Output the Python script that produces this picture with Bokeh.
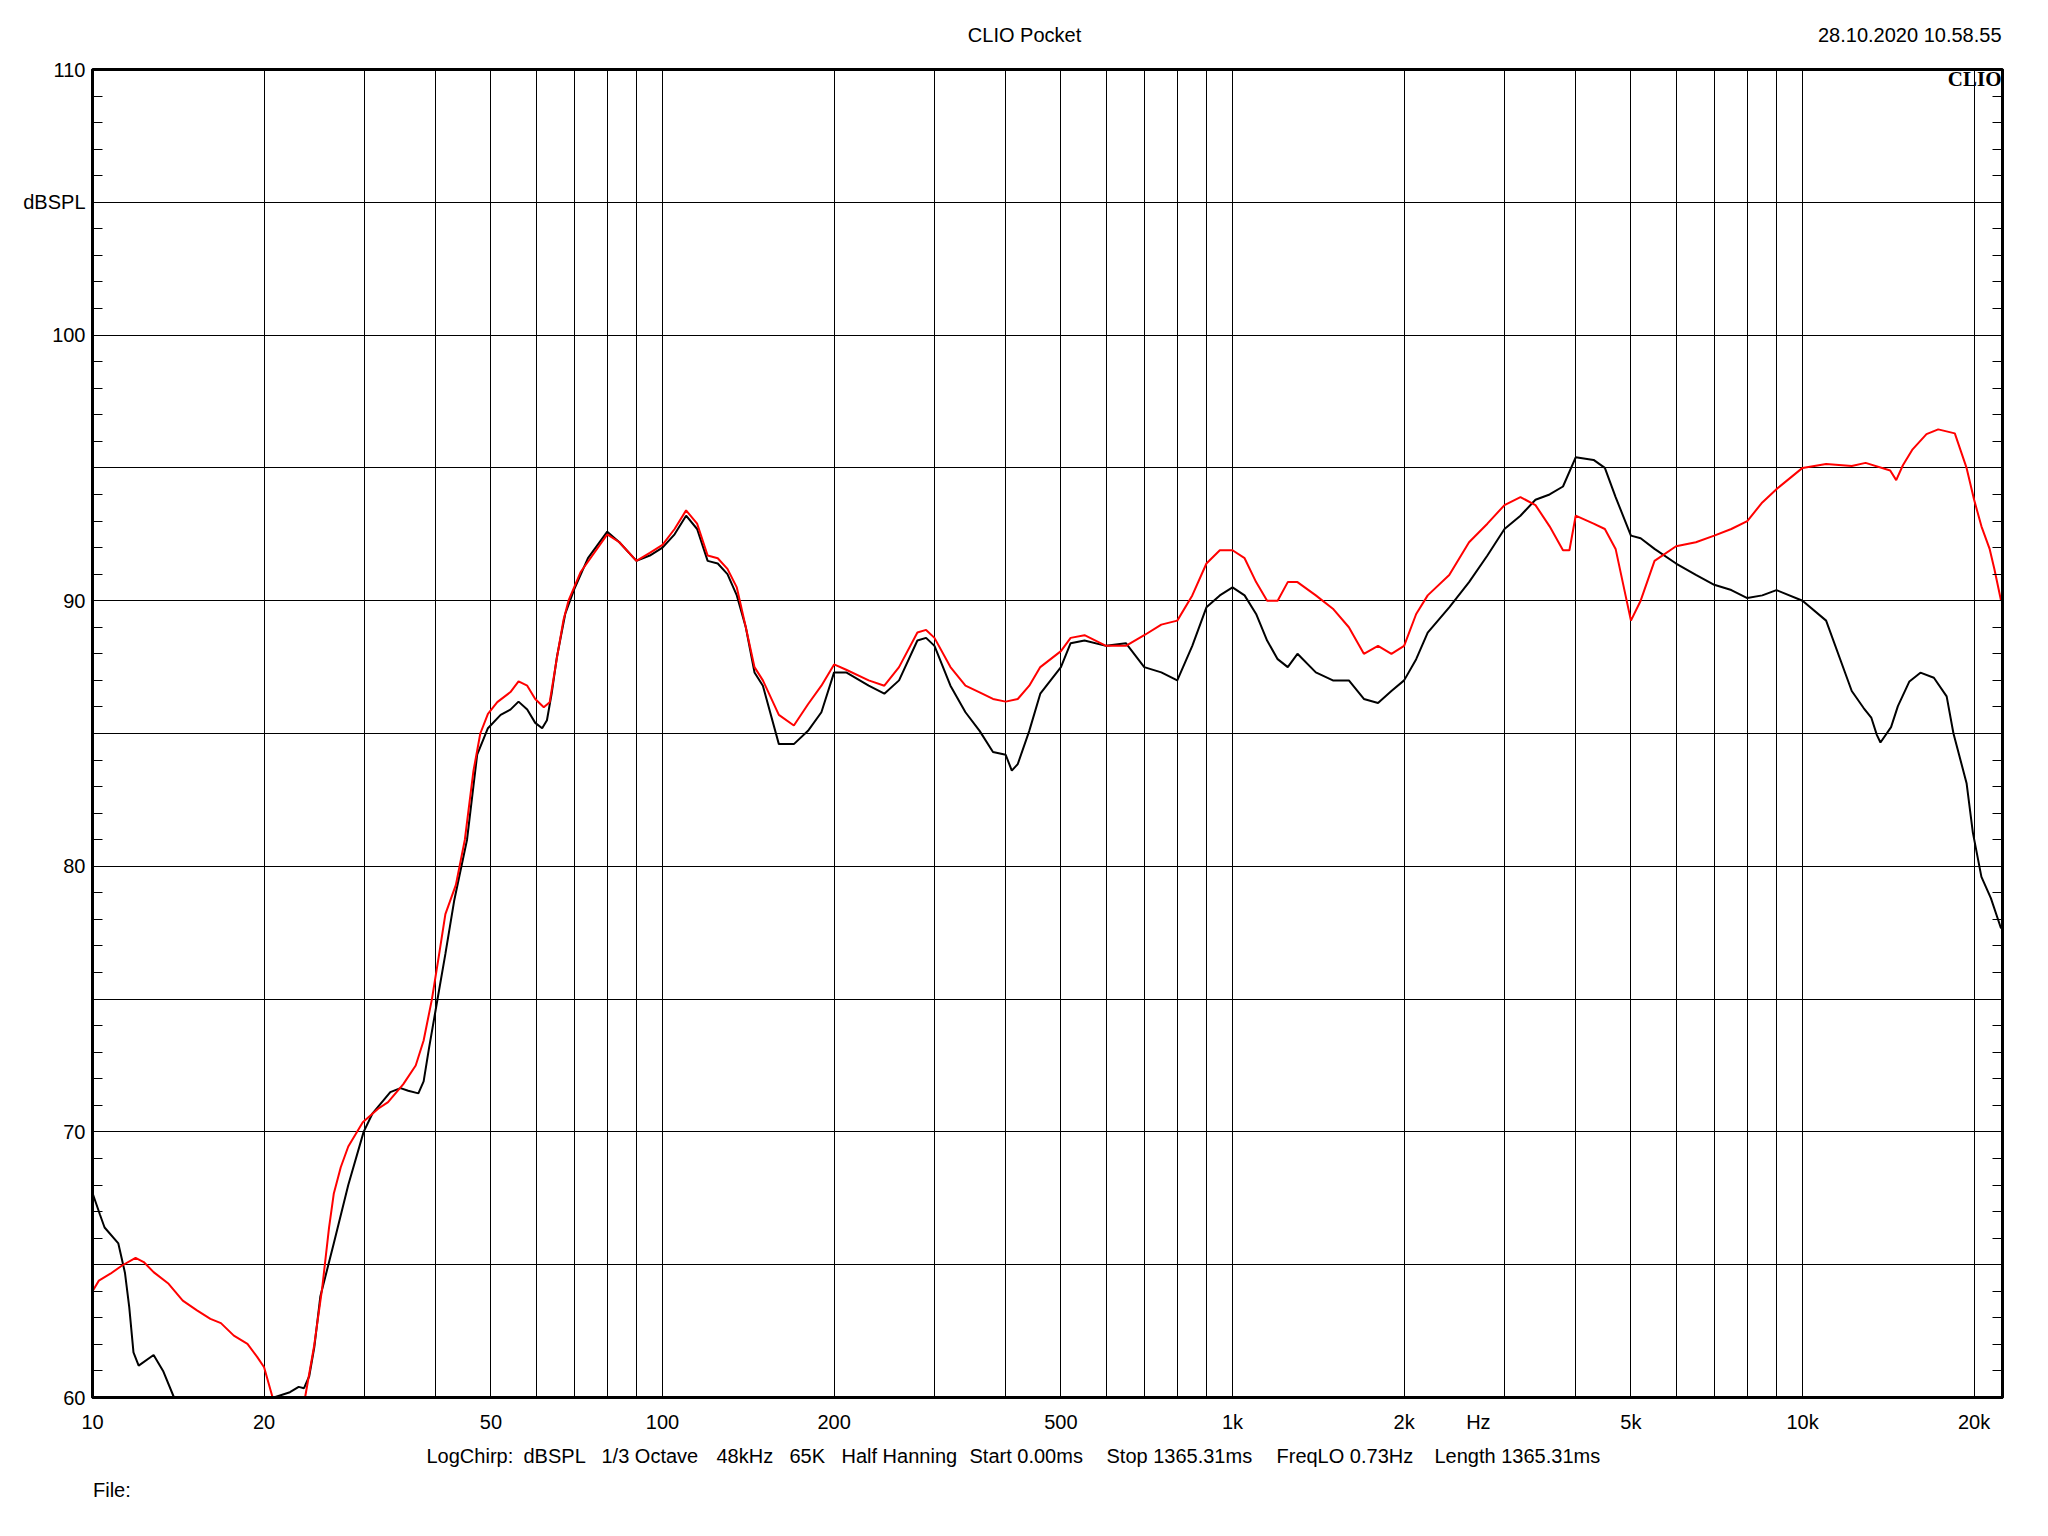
import numpy as np
from bokeh.plotting import figure
from bokeh.layouts import column
from bokeh.models import Range1d, FixedTicker, LinearAxis, Label
from bokeh.core.properties import value
from bokeh.embed import file_html
from bokeh.resources import INLINE

# ---------------- data ----------------
freq_black = [10, 10.3, 10.5, 11.1, 11.4, 11.6, 11.8, 12.05, 12.8, 13.3, 13.9, 15, 17, 19, 20.5,
              20.8, 22.2, 23.0, 23.5, 24.0, 24.5, 25.1, 26.5, 28.1, 29.9, 31.0, 33.3, 34.7, 35.8,
              37.3, 38.1, 38.9, 40, 41.6, 43.1, 45.4, 47.3, 49.4, 52, 54.1, 55.9, 57.9, 59.8, 61.5,
              62.7, 63.9, 65.3, 67.5, 69.9, 74, 80, 84, 90, 95, 100, 105, 110, 115, 120, 125, 130,
              135, 140, 145, 150, 160, 170, 180, 190, 200, 210, 230, 245, 260, 280, 290, 300, 320,
              340, 360, 380, 400, 410, 420, 440, 460, 500, 520, 550, 600, 650, 700, 750, 800, 850,
              900, 950, 1000, 1050, 1100, 1150, 1200, 1250, 1300, 1400, 1500, 1600, 1700, 1800,
              1900, 2000, 2100, 2200, 2400, 2600, 2800, 3000, 3200, 3400, 3600, 3800, 4000, 4300,
              4500, 4700, 5000, 5200, 5500, 6000, 6500, 7000, 7500, 8000, 8500, 9000, 10000, 11000,
              12200, 12800, 13200, 13500, 13700, 14300, 14700, 15400, 16100, 17000, 17900, 18400,
              19400, 19900, 20600, 21400, 22300]
spl_black = [67.7, 66.9, 66.4, 65.8, 64.7, 63.4, 61.7, 61.2, 61.6, 61.0, 60.0, 58.5, 57.5, 58.0, 59.7,
             60.0, 60.2, 60.4, 60.35, 60.8, 61.9, 63.8, 65.8, 68.0, 70.0, 70.7, 71.5, 71.65, 71.55,
             71.45, 71.9, 73.1, 74.6, 76.7, 78.7, 81.0, 84.2, 85.2, 85.7, 85.9, 86.2, 85.9, 85.4, 85.2,
             85.5, 86.5, 87.9, 89.5, 90.4, 91.6, 92.6, 92.2, 91.5, 91.7, 92.0, 92.5, 93.2, 92.7, 91.5,
             91.4, 91.0, 90.2, 89.0, 87.3, 86.8, 84.6, 84.6, 85.1, 85.8, 87.3, 87.3, 86.8, 86.5, 87.0,
             88.5, 88.6, 88.3, 86.8, 85.8, 85.1, 84.3, 84.2, 83.6, 83.85, 85.1, 86.5, 87.5, 88.4, 88.5,
             88.3, 88.4, 87.5, 87.3, 87.0, 88.3, 89.75, 90.2, 90.5, 90.2, 89.5, 88.5, 87.8, 87.5, 88.0,
             87.3, 87.0, 87.0, 86.3, 86.15, 86.6, 87.0, 87.8, 88.8, 89.75, 90.7, 91.7, 92.7, 93.2, 93.8,
             94.0, 94.3, 95.4, 95.3, 95.0, 93.9, 92.45, 92.35, 91.95, 91.4, 90.97, 90.6, 90.4, 90.1,
             90.2, 90.4, 90.0, 89.25, 86.6, 85.96, 85.6, 84.95, 84.66, 85.24, 86.03, 86.96, 87.29,
             87.1, 86.4, 85.0, 83.13, 81.27, 79.6, 78.8, 77.66]

freq_red = [10, 10.26, 10.75, 11.27, 11.9, 12.3, 12.8, 13.6, 14.4, 15.25, 16.1, 16.8, 17.7, 18.7,
            19.46, 20.0, 20.7, 22, 23.6, 24.46, 25.3, 26.0, 26.5, 27.26, 28.1, 29.8, 31.7, 33.0,
            35.1, 36.9, 38.1, 39.4, 40.5, 41.6, 43.4, 45.0, 46.6, 47.9, 49.4, 51.3, 54.1, 55.9, 57.9,
            59.8, 61.9, 63.4, 65.3, 67.0, 68.4, 71.8, 80, 84, 90, 95, 100, 105, 110, 115, 120, 125,
            130, 135, 140, 145, 150, 160, 170, 180, 190, 200, 210, 230, 245, 260, 280, 290, 300, 320,
            340, 360, 380, 400, 420, 440, 460, 500, 520, 550, 600, 650, 700, 750, 800, 850, 900, 950,
            1000, 1050, 1100, 1150, 1200, 1250, 1300, 1400, 1500, 1600, 1700, 1800, 1900, 2000, 2100,
            2200, 2400, 2600, 2800, 3000, 3200, 3400, 3600, 3800, 3900, 4000, 4300, 4500, 4700, 5000,
            5200, 5500, 6000, 6500, 7000, 7500, 8000, 8500, 9000, 10000, 11000, 12200, 12900, 14250,
            14600, 15000, 15600, 16500, 17300, 18500, 19400, 20000, 20600, 21300, 21700, 22300]
spl_red = [64.0, 64.4, 64.66, 64.97, 65.26, 65.1, 64.72, 64.28, 63.65, 63.28, 62.96, 62.8, 62.33, 62.02,
           61.52, 61.14, 60.0, 58.5, 60.0, 61.9, 64.15, 66.4, 67.67, 68.67, 69.45, 70.36, 70.87, 71.12,
           71.8, 72.5, 73.44, 75.0, 76.6, 78.2, 79.3, 81.0, 83.6, 85.0, 85.74, 86.18, 86.56, 86.96, 86.8,
           86.3, 85.99, 86.18, 87.87, 89.25, 90.0, 91.07, 92.5, 92.2, 91.5, 91.8, 92.1, 92.7, 93.4, 92.9,
           91.7, 91.6, 91.2, 90.5, 89.0, 87.5, 87.0, 85.7, 85.3, 86.1, 86.8, 87.6, 87.4, 87.0, 86.8, 87.5,
           88.8, 88.9, 88.6, 87.5, 86.8, 86.55, 86.3, 86.2, 86.3, 86.8, 87.5, 88.1, 88.6, 88.7, 88.3,
           88.3, 88.7, 89.1, 89.25, 90.2, 91.4, 91.9, 91.9, 91.6, 90.7, 90.0, 90.0, 90.7, 90.7, 90.2,
           89.7, 89.0, 88.0, 88.3, 88.0, 88.3, 89.5, 90.2, 90.97, 92.2, 92.9, 93.6, 93.9, 93.6, 92.8,
           91.9, 91.9, 93.2, 92.9, 92.7, 91.95, 89.25, 90.0, 91.5, 92.05, 92.2, 92.45, 92.7, 93.0, 93.7,
           94.2, 95.0, 95.15, 95.07, 95.19, 94.9, 94.54, 95.1, 95.7, 96.27, 96.45, 96.3, 95.0, 93.8,
           92.8, 91.94, 91.2, 90.0]

x_ticks = [10, 20, 50, 100, 200, 500, 1000, 2000, 2700, 5000, 10000, 20000]
x_tick_labels = ["10", "20", "50", "100", "200", "500", "1k", "2k", "Hz", "5k", "10k", "20k"]
grid_freqs = [m * 10 ** e for e in range(1, 5) for m in range(1, 10) if m * 10 ** e <= 22000]
y_ticks = list(range(60, 111, 5))
y_tick_labels = ["60", "", "70", "", "80", "", "90", "", "100", "dBSPL", "110"]
y_minor = list(range(60, 111))

header_texts = ["CLIO Pocket", "28.10.2020 10.58.55"]
logo_text = "CLIO"
footer_parts = ["LogChirp:", "dBSPL", "1/3 Octave", "48kHz", "65K", "Half Hanning",
                "Start 0.00ms", "Stop 1365.31ms", "FreqLO 0.73Hz", "Length 1365.31ms"]
file_text = "File:"

# ---------------- layout ----------------
FONT = "Liberation Sans"
FS = "20px"
W = 2032
HEAD_H = 53
L, T, FW, FH, B = 92, 16, 1910, 1328, 45
R = W - L - FW
MAIN_H = T + FH + B
FOOT_H = 1520 - HEAD_H - MAIN_H
X0, X1 = 10, 22430
Y0, Y1 = 60, 110


def dx(cx):
    return 10 ** (np.log10(X0) + (cx - L) / FW * (np.log10(X1) - np.log10(X0)))


def dy(cy):
    return Y1 - (cy - T) / FH * (Y1 - Y0)


def text_strip(height):
    # frame of this strip is aligned with the main frame by the column layout
    f = figure(width=W, height=height, x_range=Range1d(L, L + FW), y_range=Range1d(height, 0),
               output_backend="svg", toolbar_location=None,
               x_axis_location=None, y_axis_location=None,
               min_border=0, min_border_left=0, min_border_right=0,
               min_border_top=0, min_border_bottom=0)
    f.outline_line_color = None
    f.grid.visible = False
    f.background_fill_color = "white"
    f.border_fill_color = "white"
    return f


# header
head = text_strip(HEAD_H)
head.text(x=[1024], y=[34], text=[header_texts[0]], text_align="center", text_baseline="middle",
          text_font=value(FONT), text_font_size=value(FS), text_color="black")
head.text(x=[2001], y=[34], text=[header_texts[1]], text_align="right", text_baseline="middle",
          text_font=value(FONT), text_font_size=value(FS), text_color="black")

# main plot
p = figure(width=W, height=MAIN_H, x_axis_type="log", x_range=Range1d(X0, X1), y_range=Range1d(Y0, Y1),
           output_backend="svg", toolbar_location=None,
           min_border_left=L, min_border_right=R, min_border_top=T, min_border_bottom=B)
p.background_fill_color = "white"
p.border_fill_color = "white"
p.outline_line_color = "black"
p.outline_line_width = 3

xa = p.xaxis[0]
xa.ticker = FixedTicker(ticks=x_ticks)
xa.major_label_overrides = {t: l for t, l in zip(x_ticks, x_tick_labels)}
xa.major_tick_in = 0
xa.major_tick_out = 0
xa.minor_tick_in = 0
xa.minor_tick_out = 0
xa.axis_line_width = 3
xa.axis_line_color = "black"
xa.major_label_text_font = FONT
xa.major_label_text_font_size = FS
xa.major_label_text_color = "black"
xa.major_label_standoff = 13

ya = p.yaxis[0]
ya.ticker = FixedTicker(ticks=y_ticks, minor_ticks=y_minor)
ya.major_label_overrides = {t: l for t, l in zip(y_ticks, y_tick_labels)}
ya.major_tick_in = 10
ya.major_tick_out = 0
ya.minor_tick_in = 10
ya.minor_tick_out = 0
ya.major_tick_line_color = "black"
ya.minor_tick_line_color = "black"
ya.axis_line_width = 3
ya.major_label_text_font = FONT
ya.major_label_text_font_size = FS
ya.major_label_text_color = "black"
ya.major_label_standoff = 7

ra = LinearAxis(ticker=FixedTicker(ticks=y_ticks, minor_ticks=y_minor),
                major_label_overrides={t: "" for t in y_ticks})
ra.major_tick_in = 10
ra.major_tick_out = 0
ra.minor_tick_in = 10
ra.minor_tick_out = 0
ra.major_tick_line_color = "black"
ra.minor_tick_line_color = "black"
ra.axis_line_width = 3
ra.major_label_text_font_size = "1px"
p.add_layout(ra, "right")

p.xgrid.ticker = FixedTicker(ticks=grid_freqs)
p.xgrid.grid_line_color = "black"
p.xgrid.grid_line_width = 1
p.ygrid.ticker = FixedTicker(ticks=y_ticks)
p.ygrid.grid_line_color = "black"
p.ygrid.grid_line_width = 1

p.line(freq_black, spl_black, line_color="black", line_width=2)
p.line(freq_red, spl_red, line_color="#ff0000", line_width=2)

p.add_layout(Label(x=dx(2001), y=dy(78 - HEAD_H), text=logo_text, text_align="right",
                   text_baseline="middle", text_font="Liberation Serif", text_font_size="21px",
                   text_font_style="bold", text_color="black"))

# footer
foot = text_strip(FOOT_H)
footer_x = [426, 523, 601, 716, 789, 841, 969, 1106, 1276, 1434]
fy = 1455 - HEAD_H - MAIN_H
foot.text(x=footer_x, y=[fy] * len(footer_x), text=footer_parts, text_align="left",
          text_baseline="middle", text_font=value(FONT), text_font_size=value(FS), text_color="black")
foot.text(x=[92.5], y=[1489 - HEAD_H - MAIN_H], text=[file_text], text_align="left",
          text_baseline="middle", text_font=value(FONT), text_font_size=value(FS), text_color="black")

layout = column(head, p, foot, spacing=0)
open("out.html", "w").write(file_html(layout, INLINE))
